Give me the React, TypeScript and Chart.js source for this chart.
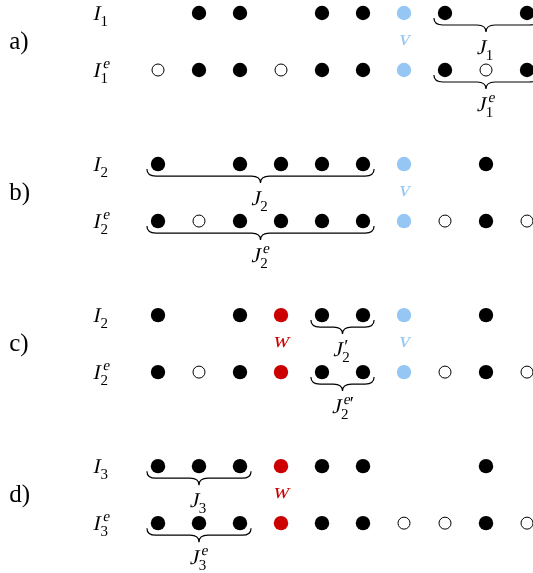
import React, { useEffect, useRef } from "react";
import { Chart, registerables } from "chart.js";
Chart.register(...registerables);

// Column positions 0..9 ; row codes: f = filled, o = open, v = blue (v), w = red (w), '' = none
const GROUPS = ["a)", "b)", "c)", "d)"];
const ROW_A_TOP = ["", "f", "f", "", "f", "f", "v", "f", "", "f"];
const ROW_A_BOT = ["o", "f", "f", "o", "f", "f", "v", "f", "o", "f"];
const ROW_B_TOP = ["f", "", "f", "f", "f", "f", "v", "", "f", ""];
const ROW_B_BOT = ["f", "o", "f", "f", "f", "f", "v", "o", "f", "o"];
const ROW_C_TOP = ["f", "", "f", "w", "f", "f", "v", "", "f", ""];
const ROW_C_BOT = ["f", "o", "f", "w", "f", "f", "v", "o", "f", "o"];
const ROW_D_TOP = ["f", "f", "f", "w", "f", "f", "", "", "f", ""];
const ROW_D_BOT = ["f", "f", "f", "w", "f", "f", "o", "o", "f", "o"];
const ROWS = [ROW_A_TOP, ROW_A_BOT, ROW_B_TOP, ROW_B_BOT, ROW_C_TOP, ROW_C_BOT, ROW_D_TOP, ROW_D_BOT];

// Row labels: [main, sub, sup]
const ROW_LABELS = [
  ["I", "1", ""], ["I", "1", "e"],
  ["I", "2", ""], ["I", "2", "e"],
  ["I", "2", ""], ["I", "2", "e"],
  ["I", "3", ""], ["I", "3", "e"],
];
// Braces: [row index, from col, to col, main, sub, sup]
const BRACES = [
  [0, 7, 9, "J", "1", ""],
  [1, 7, 9, "J", "1", "e"],
  [2, 0, 5, "J", "2", ""],
  [3, 0, 5, "J", "2", "e"],
  [4, 4, 5, "J", "2", "′"],
  [5, 4, 5, "J", "2", "e′"],
  [6, 0, 2, "J", "3", ""],
  [7, 0, 2, "J", "3", "e"],
];
// Vertex labels between rows: [group, col, text]
const VERTEX_LABELS = [
  [0, 6, "v"],
  [1, 6, "v"],
  [2, 3, "w"], [2, 6, "v"],
  [3, 3, "w"],
];

const GROUP_STEP = 2.65;
const rowY = (r: number) => Math.floor(r / 2) * GROUP_STEP + (r % 2);

const BLUE = "#95c6f4";
const RED = "#cc0000";
const SERIF = "'Liberation Serif', 'DejaVu Serif', serif";
const SKEW = -0.22;

function pts(code: string) {
  const out: { x: number; y: number }[] = [];
  ROWS.forEach((row, r) => row.forEach((c, i) => { if (c === code) out.push({ x: i, y: rowY(r) }); }));
  return out;
}

function oblique(ctx: CanvasRenderingContext2D, text: string, x: number, y: number) {
  ctx.save();
  ctx.translate(x, y);
  ctx.transform(1, 0, SKEW, 1, 0, 0);
  ctx.fillText(text, 0, 0);
  ctx.restore();
}

function drawMath(ctx: CanvasRenderingContext2D, x: number, y: number, main: string, sub: string, sup: string, align: string, color = "#000") {
  ctx.save();
  ctx.fillStyle = color;
  ctx.textBaseline = "alphabetic";
  ctx.textAlign = "left";
  ctx.font = `21px ${SERIF}`;
  const wMain = ctx.measureText(main).width + 2;
  ctx.font = `15px ${SERIF}`;
  const wSub = ctx.measureText(sub).width;
  const wSup = ctx.measureText(sup).width;
  const total = wMain + Math.max(wSub, wSup) + 1;
  const x0 = align === "center" ? x - total / 2 : x;
  const base = y + 7;
  ctx.font = `21px ${SERIF}`;
  oblique(ctx, main, x0, base);
  if (sub) {
    ctx.font = `15px ${SERIF}`;
    ctx.fillText(sub, x0 + wMain - 1, base + 6);
  }
  if (sup) {
    let sx = x0 + wMain + 1;
    for (const ch of sup) {
      if (ch === "′") {
        ctx.font = `19px ${SERIF}`;
        ctx.fillText(ch, sx, base - 3);
        sx += ctx.measureText(ch).width;
      } else {
        ctx.font = `15px ${SERIF}`;
        oblique(ctx, ch, sx, base - 9);
        sx += ctx.measureText(ch).width;
      }
    }
  }
  ctx.restore();
}

const diagramPlugin = {
  id: "diagram",
  afterDatasetsDraw(chart: any) {
    const ctx = chart.ctx as CanvasRenderingContext2D;
    const xs = chart.scales.x;
    const ys = chart.scales.y;
    // group letters
    GROUPS.forEach((g, i) => {
      ctx.save();
      ctx.font = `25px ${SERIF}`;
      ctx.fillStyle = "#000";
      ctx.textBaseline = "middle";
      ctx.textAlign = "left";
      ctx.fillText(g, xs.getPixelForValue(-3.63), ys.getPixelForValue(i * GROUP_STEP + 0.52));
      ctx.restore();
    });
    // row labels
    ROW_LABELS.forEach((l, r) => {
      drawMath(ctx, xs.getPixelForValue(-1.6), ys.getPixelForValue(rowY(r)), l[0], l[1], l[2], "left");
    });
    // vertex labels
    VERTEX_LABELS.forEach(([g, c, t]) => {
      ctx.save();
      ctx.font = `22px ${SERIF}`;
      ctx.fillStyle = t === "v" ? BLUE : RED;
      ctx.textAlign = "center";
      ctx.textBaseline = "middle";
      oblique(ctx, t as string, xs.getPixelForValue(c as number) + 1, ys.getPixelForValue((g as number) * GROUP_STEP + 0.5) - 2);
      ctx.restore();
    });
    // braces
    BRACES.forEach(([r, c1, c2, m, s, sp]) => {
      const x1 = xs.getPixelForValue((c1 as number) - 0.27);
      const x2 = xs.getPixelForValue((c2 as number) + 0.27);
      const y0 = ys.getPixelForValue(rowY(r as number)) + 5;
      const h = 14;
      const mid = (x1 + x2) / 2;
      const q = 9;
      const ym = y0 + h / 2;
      ctx.save();
      ctx.strokeStyle = "#000";
      ctx.lineWidth = 1.2;
      ctx.beginPath();
      ctx.moveTo(x1, y0);
      ctx.quadraticCurveTo(x1, ym, x1 + q, ym);
      ctx.lineTo(mid - q, ym);
      ctx.quadraticCurveTo(mid, ym, mid, y0 + h);
      ctx.quadraticCurveTo(mid, ym, mid + q, ym);
      ctx.lineTo(x2 - q, ym);
      ctx.quadraticCurveTo(x2, ym, x2, y0);
      ctx.stroke();
      ctx.restore();
      drawMath(ctx, mid, y0 + h + 15, m as string, s as string, sp as string, "center");
    });
  },
};

export default function App() {
  const ref = useRef<HTMLCanvasElement>(null);
  useEffect(() => {
    if (!ref.current) return;
    const chart = new Chart(ref.current, {
      type: "scatter",
      data: {
        datasets: [
          { data: pts("f"), pointRadius: 7.2, pointBackgroundColor: "#000", pointBorderWidth: 0 },
          { data: pts("o"), pointRadius: 6, pointBackgroundColor: "#fff", pointBorderColor: "#000", pointBorderWidth: 1 },
          { data: pts("v"), pointRadius: 7.2, pointBackgroundColor: BLUE, pointBorderWidth: 0 },
          { data: pts("w"), pointRadius: 7.2, pointBackgroundColor: RED, pointBorderWidth: 0 },
        ],
      },
      options: {
        animation: false,
        responsive: false,
        devicePixelRatio: 1,
        layout: { padding: 0, autoPadding: false },
        plugins: { legend: { display: false }, tooltip: { enabled: false } },
        scales: {
          x: { type: "linear", display: false, min: -158 / 41, max: (533 - 158) / 41 },
          y: { type: "linear", display: false, reverse: true, min: -13 / 57, max: (573 - 13) / 57 },
        },
      },
      plugins: [diagramPlugin],
    });
    return () => chart.destroy();
  }, []);
  return (
    <div style={{ position: "fixed", left: 0, top: 0, width: 533, height: 573, background: "#fff" }}>
      <canvas ref={ref} width={533} height={573} />
    </div>
  );
}
